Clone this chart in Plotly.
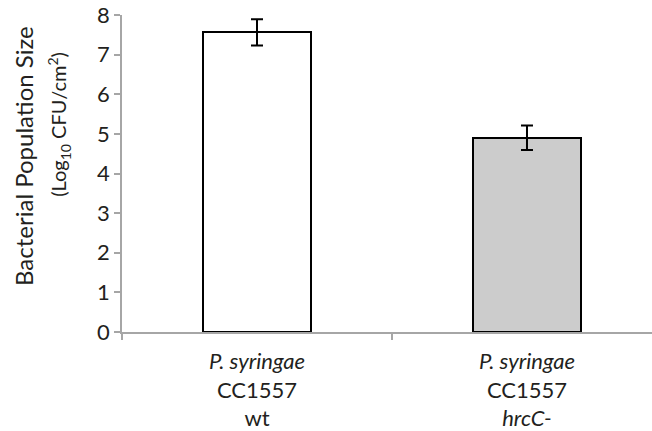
import plotly.graph_objects as go

categories = ["<i>P. syringae</i><br>CC1557<br>wt", "<i>P. syringae</i><br>CC1557<br><i>hrcC-</i>"]
x_pos = [0, 1]
values = [7.56, 4.90]
errors = [0.33, 0.31]
colors = ["#ffffff", "#cccccc"]
y_ticks = [0, 1, 2, 3, 4, 5, 6, 7, 8]

FONT = "Lato"
TXT = "#231f20"
AX = "#a6a6a6"

fig = go.Figure()
fig.add_trace(go.Bar(
    x=x_pos, y=values, width=0.4,
    marker=dict(color=colors, line=dict(color="#000000", width=2)),
    error_y=dict(type="data", array=errors, visible=True, color="#000000",
                 thickness=2, width=6),
    hoverinfo="skip",
))

fig.update_layout(
    width=652, height=431,
    margin=dict(l=122, r=0, t=15, b=97),
    plot_bgcolor="white", paper_bgcolor="white",
    showlegend=False,
    font=dict(family=FONT, color=TXT),
    bargap=0,
)
fig.update_xaxes(
    range=[-0.5, 1.463],
    tickvals=x_pos, ticktext=categories,
    ticks="outside", ticklen=0, tickcolor=AX,
    ticklabelstandoff=9,
    minor=dict(tick0=-0.5, dtick=1, ticks="outside", ticklen=6, tickcolor=AX, tickwidth=1.5),
    showline=True, linecolor=AX, linewidth=1.5,
    showgrid=False, zeroline=False,
    tickfont=dict(size=22, family=FONT, color=TXT),
)
fig.update_yaxes(
    range=[0, 8], tickvals=y_ticks,
    ticks="outside", ticklen=6, tickcolor=AX, tickwidth=1.5,
    ticklabeloverflow="allow",
    showline=True, linecolor=AX, linewidth=1.5,
    showgrid=False, zeroline=False,
    tickfont=dict(size=22, family=FONT, color=TXT),
)

fig.add_annotation(
    text="Bacterial Population Size", textangle=-90,
    xref="paper", yref="paper", x=-0.187, y=0.555,
    xanchor="center", yanchor="middle", showarrow=False,
    font=dict(size=24, family=FONT, color=TXT),
)
fig.add_annotation(
    text="(Log<sub>10</sub> CFU/cm<sup>2</sup>)", textangle=-90,
    xref="paper", yref="paper", x=-0.118, y=0.655,
    xanchor="center", yanchor="middle", showarrow=False,
    font=dict(size=20, family=FONT, color=TXT),
)

fig.write_html("out.html", config={"displayModeBar": False},
               post_script="document.body.style.margin='0px';")
